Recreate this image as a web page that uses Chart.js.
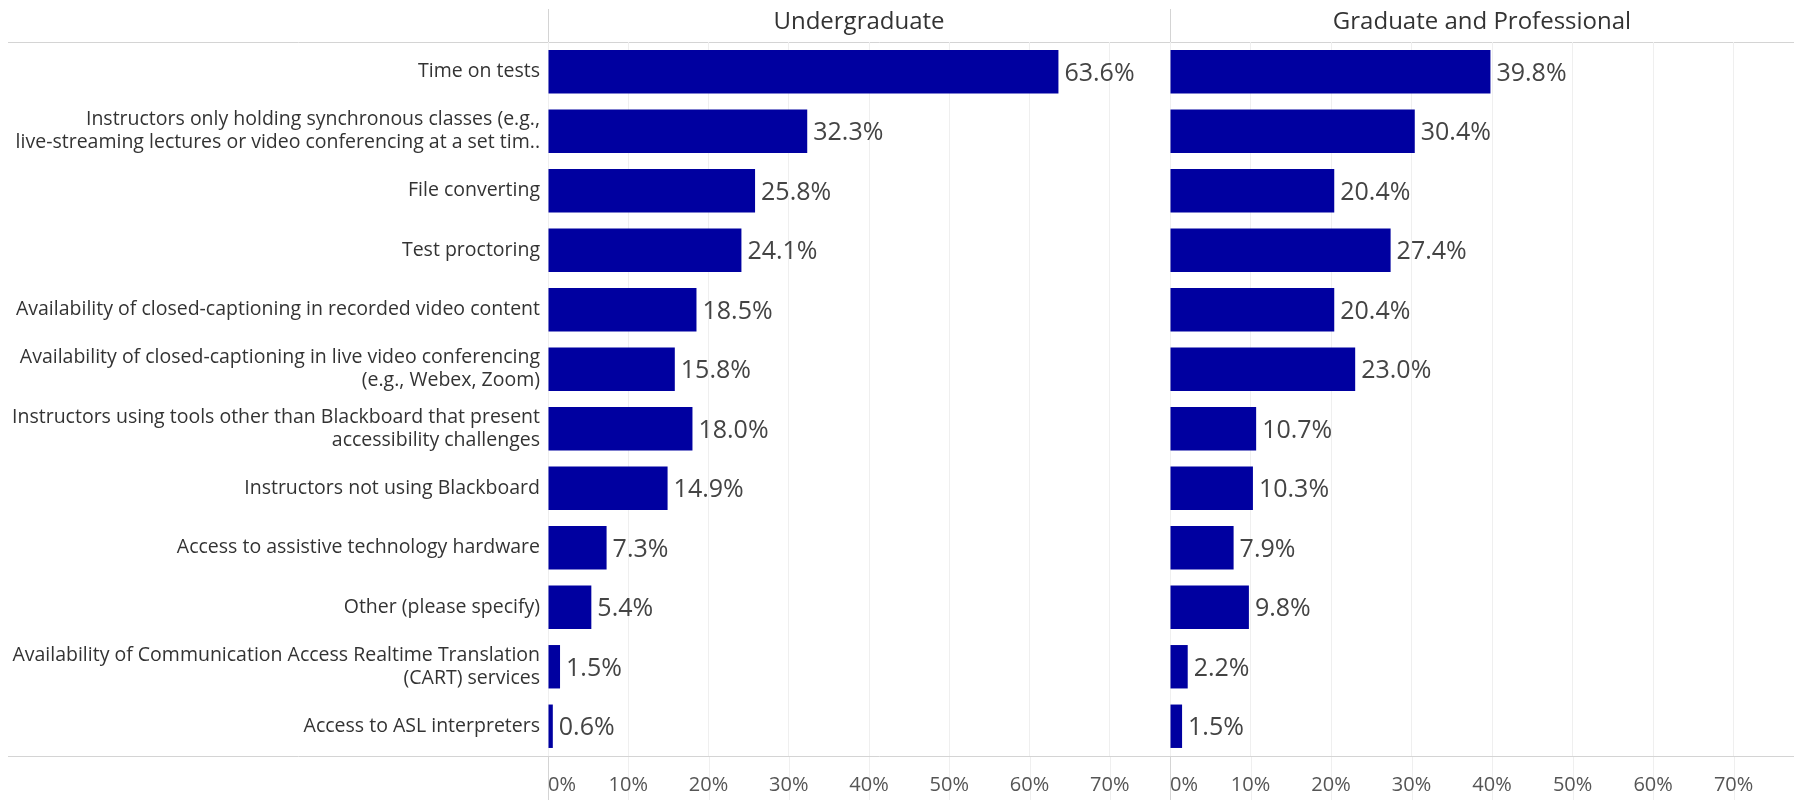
<!DOCTYPE html>
<html>
<head>
<meta charset="utf-8">
<script src="https://cdn.jsdelivr.net/npm/chart.js@4.4.0/dist/chart.umd.min.js"></script>
<style>
  html, body { margin: 0; padding: 0; background: #fff; }
  #wrap { position: relative; width: 1794px; height: 800px; }
  #left { position: absolute; left: 0; top: 0; }
  #right { position: absolute; left: 1170px; top: 0; }
</style>
</head>
<body>
<div id="wrap">
  <canvas id="left" width="1170" height="800"></canvas>
  <canvas id="right" width="624" height="800"></canvas>
</div>
<script>
// categories (long ones split on two lines like the original)
var categories = [
  'Time on tests',
  ['Instructors only holding synchronous classes (e.g.,', 'live-streaming lectures or video conferencing at a set tim..'],
  'File converting',
  'Test proctoring',
  'Availability of closed-captioning in recorded video content',
  ['Availability of closed-captioning in live video conferencing', '(e.g., Webex, Zoom)'],
  ['Instructors using tools other than Blackboard that present', 'accessibility challenges'],
  'Instructors not using Blackboard',
  'Access to assistive technology hardware',
  'Other (please specify)',
  ['Availability of Communication Access Realtime Translation', '(CART) services'],
  'Access to ASL interpreters'
];
var undergrad = [63.6, 32.3, 25.8, 24.1, 18.5, 15.8, 18.0, 14.9, 7.3, 5.4, 1.5, 0.6];
var graduate = [39.8, 30.4, 20.4, 27.4, 20.4, 23.0, 10.7, 10.3, 7.9, 9.8, 2.2, 1.5];
var panelTitles = ['Undergraduate', 'Graduate and Professional'];
var xTicks = [0, 10, 20, 30, 40, 50, 60, 70];
var X_MAX = 77.5;

var FONT = '"Open Sans", sans-serif';
var barColor = '#0000a0';

function panelPlugin(title, lineStart) {
  return {
    id: 'panel',
    beforeDraw(chart) {
      const ctx = chart.ctx, a = chart.chartArea;
      ctx.save();
      ctx.fillStyle = '#fff';
      ctx.fillRect(0, 0, chart.width, chart.height);
      // faint grid continuing through the tick area
      const xs = chart.scales.x;
      ctx.strokeStyle = '#efefef';
      ctx.beginPath();
      xTicks.forEach(v => {
        const px = Math.round(xs.getPixelForValue(v)) + 0.5;
        ctx.moveTo(px, a.bottom);
        ctx.lineTo(px, chart.height);
      });
      ctx.stroke();
      ctx.strokeStyle = '#d4d4d4';
      ctx.lineWidth = 1;
      ctx.beginPath();
      ctx.moveTo(lineStart, Math.round(a.top) + 0.5);
      ctx.lineTo(chart.width, Math.round(a.top) + 0.5);
      ctx.moveTo(lineStart, Math.round(a.bottom) + 0.5);
      ctx.lineTo(chart.width, Math.round(a.bottom) + 0.5);
      ctx.moveTo(Math.round(a.left) + 0.5, 9);
      ctx.lineTo(Math.round(a.left) + 0.5, chart.height);
      ctx.stroke();
      ctx.fillStyle = '#333';
      ctx.font = '24px ' + FONT;
      ctx.textAlign = 'center';
      ctx.textBaseline = 'middle';
      ctx.fillText(title, (a.left + a.right) / 2, a.top / 2 + 1);
      ctx.restore();
    },
    afterDatasetsDraw(chart) {
      const ctx = chart.ctx;
      const ds = chart.data.datasets[0];
      ctx.save();
      ctx.fillStyle = '#444';
      ctx.font = '25px ' + FONT;
      ctx.textAlign = 'left';
      ctx.textBaseline = 'middle';
      chart.getDatasetMeta(0).data.forEach((bar, i) => {
        ctx.fillText(ds.data[i].toFixed(1) + '%', bar.x + 6, bar.y + 2);
      });
      ctx.restore();
    }
  };
}

function makeChart(id, values, title, showLabels) {
  const ctx = document.getElementById(id).getContext('2d');
  return new Chart(ctx, {
    type: 'bar',
    data: {
      labels: categories,
      datasets: [{
        data: values,
        backgroundColor: barColor,
        borderWidth: 0,
        barPercentage: 0.73,
        categoryPercentage: 1
      }]
    },
    options: {
      indexAxis: 'y',
      responsive: false,
      animation: false,
      layout: { padding: { top: 42, left: 0, right: 0, bottom: 0 } },
      plugins: { legend: { display: false }, tooltip: { enabled: false } },
      scales: {
        y: {
          display: showLabels,
          afterFit: s => { if (showLabels) s.width = 548; },
          grid: { display: false, drawTicks: false },
          border: { display: false },
          ticks: {
            color: '#333',
            padding: 8,
            font: { family: FONT, size: 19.5, lineHeight: 1.18 }
          }
        },
        x: {
          min: 0,
          max: X_MAX,
          afterFit: s => { s.height = 44; },
          afterBuildTicks: s => {
            s.ticks = xTicks.map(v => ({ value: v })).concat([{ value: X_MAX }]);
          },
          grid: {
            color: '#efefef',
            drawTicks: true,
            tickLength: 17,
            tickColor: 'transparent'
          },
          border: { display: false },
          ticks: {
            color: '#555',
            padding: 0,
            align: 'inner',
            autoSkip: false,
            maxRotation: 0,
            font: { family: FONT, size: 20 },
            callback: v => v === X_MAX ? '' : v + '%'
          }
        }
      }
    },
    plugins: [panelPlugin(title, showLabels ? 8 : 0)]
  });
}

makeChart('left', undergrad, panelTitles[0], true);
makeChart('right', graduate, panelTitles[1], false);
</script>
</body>
</html>
